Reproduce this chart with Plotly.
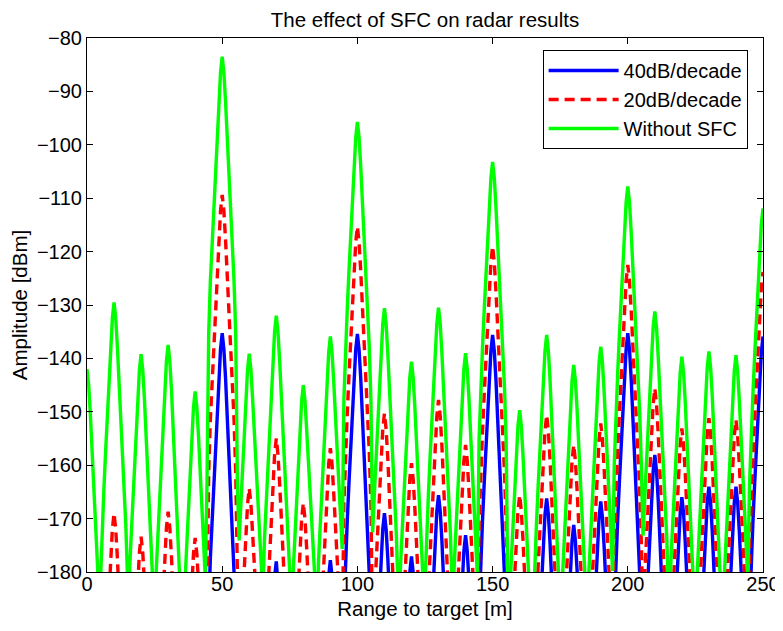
import numpy as np
import plotly.graph_objects as go

# ---- data ----
target_range = [0, 10, 20, 30, 40, 50, 60, 70, 80, 90, 100, 110, 120, 130, 140, 150,
                160, 170, 180, 190, 200, 210, 220, 230, 240, 250]

peak_without_sfc = [-142.0, -129.5, -139.2, -137.5, -146.2, -83.5, -139.1, -132.0, -145.0, -135.9,
                    -95.7, -130.6, -140.6, -130.5, -139.0, -103.2, -149.7, -135.6, -141.2, -137.8,
                    -107.8, -131.2, -139.7, -138.7, -139.4, -111.9]
peak_20db = [-250.0, -169.0, -173.4, -168.7, -173.6, -109.4, -164.3, -155.0, -167.1, -156.8,
             -115.3, -150.3, -159.6, -147.8, -156.2, -119.0, -165.6, -150.6, -156.2, -152.2,
             -122.5, -145.6, -153.1, -151.2, -151.5, -123.8]
peak_40db = [-250.0, -210.0, -205.0, -198.0, -200.0, -135.3, -188.0, -178.0, -189.0, -177.8,
             -135.4, -169.0, -177.1, -165.6, -173.1, -135.6, -181.5, -166.2, -171.2, -166.8,
             -135.3, -158.1, -166.0, -164.0, -164.0, -135.9]

# range-bin spacing and main-lobe drop (dB below peak) at 0,1,2,... bins from the peak
bin_step = 0.625
lobe_drop = [0.0, 3.0, 8.5, 15.0, 21.5, 28.0, 35.0, 42.0, 52.0, 80.0, 150.0]
floor_db = -260.0

x_axis_ticks = [0, 50, 100, 150, 200, 250]
y_axis_ticks = [-80, -90, -100, -110, -120, -130, -140, -150, -160, -170, -180]


def build_series(peaks):
    n_bins = int(round(target_range[-1] / bin_step)) + 1
    xs = np.arange(n_bins) * bin_step
    ys = np.full(n_bins, floor_db)
    for r, p in zip(target_range, peaks):
        c = int(round(r / bin_step))
        for k, d in enumerate(lobe_drop):
            for idx in (c - k, c + k):
                if 0 <= idx < n_bins:
                    ys[idx] = max(ys[idx], p - d)
    return xs, ys


fig = go.Figure()
series = [
    ("40dB/decade", peak_40db, "rgb(0,0,255)", "solid"),
    ("20dB/decade", peak_20db, "rgb(255,0,0)", "10px,6px"),
    ("Without SFC", peak_without_sfc, "rgb(0,255,0)", "solid"),
]
for name, peaks, color, dash in series:
    xs, ys = build_series(peaks)
    fig.add_trace(go.Scatter(x=xs, y=ys, mode="lines", name=name,
                             line=dict(color=color, width=3.4, dash=dash)))

font = "Liberation Sans, Arial, Helvetica, sans-serif"
axis_common = dict(showline=True, linecolor="black", linewidth=1, mirror="allticks",
                   ticks="inside", ticklen=6, tickcolor="black", showgrid=False,
                   zeroline=False, automargin=False,
                   tickfont=dict(size=20, color="black", family=font))

# the page body adds an 8 px offset, so the figure is 8 px smaller than the window
W, H = 775, 623
fig.update_layout(
    width=W, height=H,
    margin=dict(l=79, r=20, t=30, b=59),
    paper_bgcolor="white", plot_bgcolor="white",
    font=dict(family=font, color="black", size=20),
    title=dict(text="The effect of SFC on radar results", x=0.5, xref="paper",
               y=1 - 11.5 / H, yref="container", yanchor="middle",
               font=dict(size=20.5, color="black", family=font)),
    xaxis=dict(range=[0, 250], tickvals=x_axis_ticks, ticklabelstandoff=-6, **axis_common,
               title=dict(text="Range to target [m]", font=dict(size=20.5), standoff=7)),
    yaxis=dict(range=[-180, -80], tickvals=y_axis_ticks, ticklabelstandoff=0, **axis_common,
               title=dict(text="Amplitude [dBm]", font=dict(size=20.5), standoff=4)),
    legend=dict(x=0.674, y=0.9775, xanchor="left", yanchor="top",
                bordercolor="black", borderwidth=1, bgcolor="white",
                font=dict(size=20, color="black", family=font),
                itemwidth=70, tracegroupgap=0),
    showlegend=True,
)

fig.write_html("out.html")
